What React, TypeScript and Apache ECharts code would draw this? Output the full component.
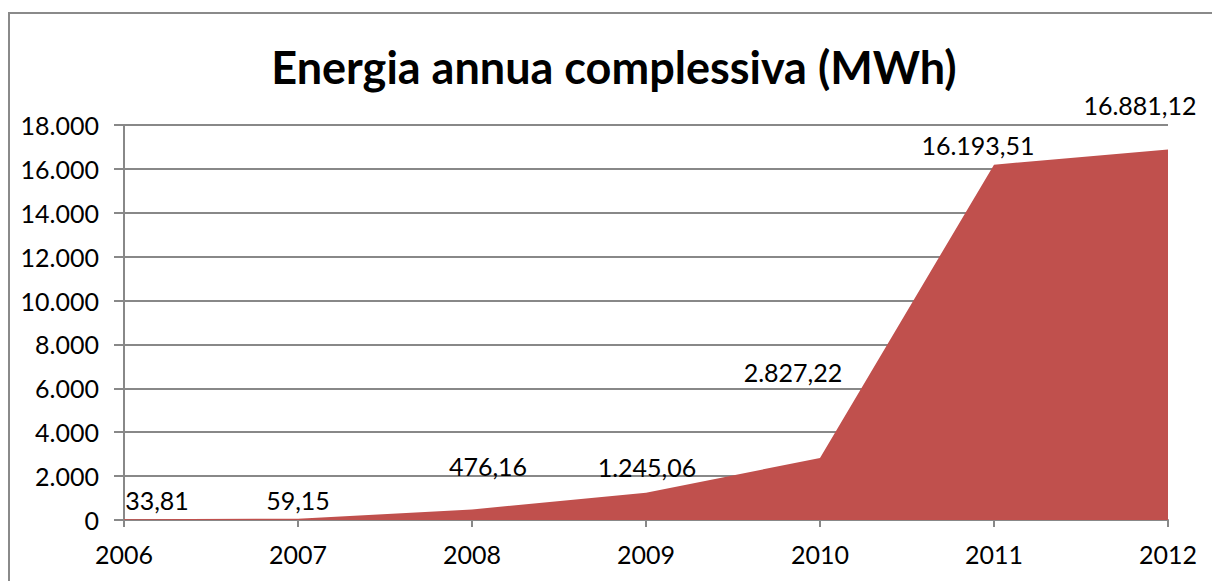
import React, { useEffect, useRef } from "react";
import * as echarts from "echarts";

const years = ["2006", "2007", "2008", "2009", "2010", "2011", "2012"];
const energy = [33.81, 59.15, 476.16, 1245.06, 2827.22, 16193.51, 16881.12];
const titleText = "Energia annua complessiva (MWh)";
const yMax = 18000;
const yStep = 2000;

// label placement relative to each point (layout only)
const labelOffsets: [number, number][] = [
  [33, -19],
  [0, -19],
  [16, -44],
  [1, -26],
  [-27, -86],
  [-16, -20],
  [-28, -45],
];

function fmtIt(v: number, decimals: number): string {
  const fixed = v.toFixed(decimals);
  const [intPart, dec] = fixed.split(".");
  const withSep = intPart.replace(/\B(?=(\d{3})+(?!\d))/g, ".");
  return dec ? withSep + "," + dec : withSep;
}

export default function App() {
  const ref = useRef<HTMLDivElement>(null);
  useEffect(() => {
    if (!ref.current) return;
    const chart = echarts.init(ref.current, undefined, { renderer: "svg" });
    const font = "Lato, 'Open Sans', sans-serif";
    chart.setOption({
      animation: false,
      backgroundColor: "#ffffff",
      textStyle: { fontFamily: font },
      title: {
        text: titleText,
        left: "center",
        top: 31,
        textStyle: { fontFamily: font, fontSize: 45, fontWeight: "bold", color: "#000" },
      },
      graphic: [
        {
          type: "rect",
          shape: { x: 1, y: 5, width: 1400, height: 800 },
          style: { fill: "none", stroke: "#8a8a8a", lineWidth: 2 },
          silent: true,
          z: -1,
        },
      ],
      grid: { left: 116, right: 52, top: 117, bottom: 61 },
      xAxis: {
        type: "category",
        data: years,
        boundaryGap: false,
        axisLine: { show: true, lineStyle: { color: "#888", width: 2 } },
        axisTick: { show: true, length: 7, alignWithLabel: true, lineStyle: { color: "#888", width: 2 } },
        axisLabel: { color: "#000", fontSize: 25, margin: 21, fontFamily: font },
        splitLine: { show: false },
      },
      yAxis: {
        type: "value",
        min: 0,
        max: yMax,
        interval: yStep,
        axisLine: { show: true, lineStyle: { color: "#888", width: 2 } },
        axisTick: { show: true, length: 10, lineStyle: { color: "#888", width: 2 } },
        axisLabel: {
          color: "#000",
          fontSize: 25,
          margin: 25,
          fontFamily: font,
          formatter: (v: number) => fmtIt(v, 0),
        },
        splitLine: { show: true, lineStyle: { color: "#888", width: 2 } },
      },
      series: [
        {
          type: "line",
          data: energy.map((v, i) => ({
            value: v,
            label: { offset: labelOffsets[i] },
          })),
          symbol: "circle",
          symbolSize: 0,
          showSymbol: true,
          lineStyle: { width: 0, color: "#C0504D" },
          itemStyle: { color: "#C0504D" },
          areaStyle: { color: "#C0504D", opacity: 1 },
          label: {
            show: true,
            position: "inside",
            color: "#000",
            fontSize: 25,
            fontFamily: font,
            formatter: (p: any) => fmtIt(p.value, 2),
          },
          z: 3,
        },
      ],
    });
    return () => chart.dispose();
  }, []);
  return <div ref={ref} style={{ width: 1212, height: 573 }} />;
}
